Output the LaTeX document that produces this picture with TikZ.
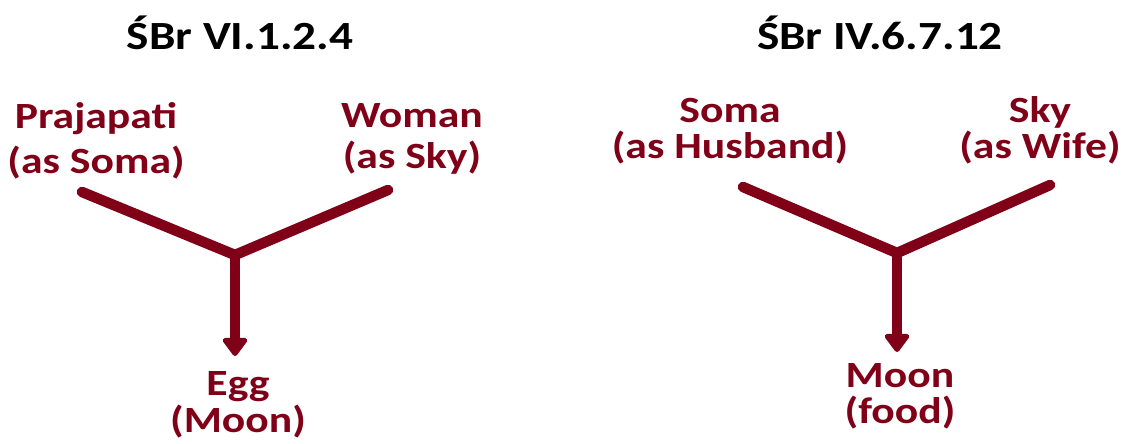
\documentclass[tikz,border=0pt]{standalone}
\usepackage{fontspec}
\setmainfont{Carlito}[FakeStretch=1.18]
\usetikzlibrary{arrows.meta}
\definecolor{maroon}{RGB}{128,0,24}
\tikzset{
  ttl/.style={font=\fontsize{40}{40}\selectfont\bfseries, text=black, inner sep=0pt, anchor=base},
  lbl/.style={font=\fontsize{37}{36}\selectfont\bfseries, text=maroon, inner sep=0pt, anchor=base, align=center},
  stem/.style={draw=maroon, line width=10.5pt, line cap=round, line join=round},
  arr/.style={draw=maroon, line width=10.5pt, -{Triangle[width=28pt,length=20pt,round]}}
}
\begin{document}
\begin{tikzpicture}[x=1pt,y=-1pt]
\useasboundingbox (0,0) rectangle (1143,444);
% left diagram
\node[ttl] (t1) at (240,50) {ŚBr VI.1.2.4};
\node[lbl] (p) at (96,173) {Prajapati\\[9pt](as Soma)};
\node[lbl] (w) at (412,168) {Woman\\[5pt](as Sky)};
\node[lbl] (e) at (238,432) {Egg\\[1pt](Moon)};
\coordinate (pl) at (82,192);
\coordinate (wl) at (388,190);
\coordinate (j1) at (235,255);
\coordinate (e1) at (235,356);
\draw[stem] (pl) -- (j1) -- (wl);
\draw[arr] (j1) -- (e1);
% right diagram
\node[ttl] (t2) at (880,50) {ŚBr IV.6.7.12};
\node[lbl] (s) at (730,158) {Soma\\(as Husband)};
\node[lbl] (k) at (1040,158) {Sky\\(as Wife)};
\node[lbl] (m) at (900,423) {Moon\\(food)};
\coordinate (sl) at (743,187);
\coordinate (kl) at (1050,185);
\coordinate (j2) at (897,253);
\coordinate (m1) at (897,352);
\draw[stem] (sl) -- (j2) -- (kl);
\draw[arr] (j2) -- (m1);
\end{tikzpicture}
\end{document}
